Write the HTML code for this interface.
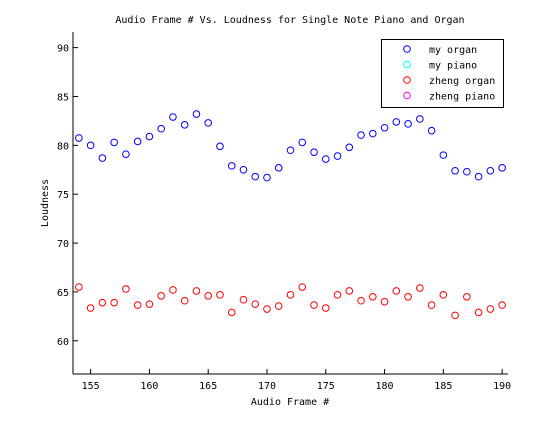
<!DOCTYPE html>
<html><head><meta charset="utf-8"><style>
html,body{margin:0;padding:0;background:#fff}
svg text{font-family:"DejaVu Sans Mono","Liberation Mono",monospace;font-size:10px;fill:#000}
</style></head><body>
<svg width="560" height="420" xmlns="http://www.w3.org/2000/svg">
<rect width="560" height="420" fill="#fff"/>
<g id="plot"></g>
</svg>
<script>
const frames = [154,155,156,157,158,159,160,161,162,163,164,165,166,167,168,169,170,171,172,173,174,175,176,177,178,179,180,181,182,183,184,185,186,187,188,189,190];
const myOrgan = [80.75,80.0,78.7,80.3,79.1,80.4,80.9,81.7,82.9,82.1,83.2,82.3,79.9,77.9,77.5,76.8,76.7,77.7,79.5,80.3,79.3,78.6,78.9,79.8,81.05,81.2,81.8,82.4,82.2,82.7,81.5,79.0,77.4,77.3,76.8,77.4,77.7];
const zhengOrgan = [65.5,63.35,63.9,63.9,65.3,63.65,63.75,64.6,65.2,64.1,65.1,64.6,64.7,62.9,64.2,63.75,63.25,63.55,64.7,65.5,63.65,63.35,64.7,65.1,64.1,64.5,64.0,65.1,64.5,65.4,63.65,64.7,62.6,64.5,62.9,63.25,63.65];
const xTicks = [155,160,165,170,175,180,185,190];
const yTicks = [60,65,70,75,80,85,90];
const legendLabels = ["my organ","my piano","zheng organ","zheng piano"];
const legendColors = ["#0000ff","#00ffff","#ff0000","#ff00ff"];

const NS="http://www.w3.org/2000/svg";
const L=73,R=508,T=32,B=374, xmin=153.5,xmax=190.5,ymin=56.6,ymax=91.6;
const xs=v=>L+(v-xmin)/(xmax-xmin)*(R-L);
const ys=v=>B-(v-ymin)/(ymax-ymin)*(B-T);
const g=document.getElementById('plot');
function mk(tag,attrs,parent){const e=document.createElementNS(NS,tag);for(const k in attrs)e.setAttribute(k,attrs[k]);(parent||g).appendChild(e);return e;}

let ax=mk('line',{x1:L,y1:T,x2:L,y2:B,stroke:'#000'});


ax=mk('line',{x1:L,y1:B,x2:R,y2:B,stroke:'#000'});



xTicks.forEach(v=>{
  const x=xs(v);
  const t=mk('line',{x1:x,y1:B,x2:x,y2:B-5,stroke:'#000'});
  
  
  const tx=mk('text',{x:x,y:B+15,'text-anchor':'middle'});
  tx.textContent=v;
  
  
});
yTicks.forEach(v=>{
  const y=ys(v);
  const t=mk('line',{x1:L,y1:y,x2:L+5,y2:y,stroke:'#000'});
  
  
  const tx=mk('text',{x:L-4,y:y+4,'text-anchor':'end'});
  tx.textContent=v;
  
  
});

frames.forEach((f,i)=>{
  const c=mk('circle',{cx:xs(f),cy:ys(myOrgan[i]),r:3.3,fill:'none',stroke:'#0000ff'});
  
  
  const d=mk('circle',{cx:xs(f),cy:ys(zhengOrgan[i]),r:3.3,fill:'none',stroke:'#ff0000'});
  
  
});

let tt=mk('text',{x:290,y:23,'text-anchor':'middle'});
tt.textContent='Audio Frame # Vs. Loudness for Single Note Piano and Organ';


tt=mk('text',{x:290,y:405,'text-anchor':'middle'});
tt.textContent='Audio Frame #';


tt=mk('text',{x:0,y:0,'text-anchor':'middle',transform:'translate(48,203) rotate(-90)'});
tt.textContent='Loudness';



const lg=mk('g',{});


mk('rect',{x:381.5,y:39.5,width:122,height:68,fill:'#fff',stroke:'#000'},lg);
legendLabels.forEach((lab,i)=>{
  const y=49+i*15.5;
  const e=mk('g',{},lg);
  
  
  mk('circle',{cx:407,cy:y,r:3.3,fill:'none',stroke:legendColors[i]},e);
  const t=mk('text',{x:429,y:y+4},e);
  t.textContent=lab;
});
</script>
</body></html>
